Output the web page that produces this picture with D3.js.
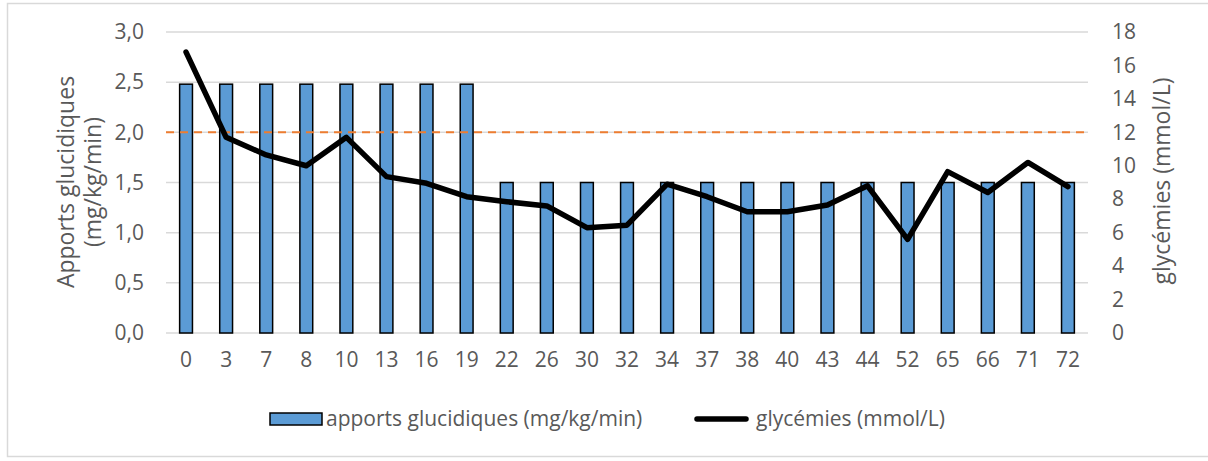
<!DOCTYPE html>
<html>
<head>
<meta charset="utf-8">
<script src="https://cdn.jsdelivr.net/npm/d3@7"></script>
<style>
  body { margin: 0; background: #fff; }
  text { font-family: "Open Sans", sans-serif; fill: #595959; }
</style>
</head>
<body>
<svg id="chart" width="1208" height="461"></svg>
<script>
const jours = ["0","3","7","8","10","13","16","19","22","26","30","32","34","37","38","40","43","44","52","65","66","71","72"];
const apports = [2.48,2.48,2.48,2.48,2.48,2.48,2.48,2.48,1.5,1.5,1.5,1.5,1.5,1.5,1.5,1.5,1.5,1.5,1.5,1.5,1.5,1.5,1.5];
const glycemies = [16.8,11.7,10.65,10.0,11.7,9.35,8.95,8.15,7.85,7.6,6.3,6.45,8.9,8.15,7.25,7.25,7.65,8.8,5.6,9.65,8.4,10.2,8.75];
const seuil = 2.0;
const leftTicks = [0,0.5,1,1.5,2,2.5,3];
const rightTicks = [0,2,4,6,8,10,12,14,16,18];

(() => {
  let margin = {top: 32, left: 166, right: 120, bottom: 128},
      width = 1088 - margin.left,
      height = 333 - margin.top,
      svg = d3.select("svg#chart");

  svg.append("rect")
    .attr("x", 7.5).attr("y", 3.5)
    .attr("width", 1210).attr("height", 453)
    .attr("fill", "#fff").attr("stroke", "#d9d9d9").attr("stroke-width", 1.5);

  let g = svg.append("g").attr("transform", "translate(" + margin.left + "," + margin.top + ")");

  let x = d3.scaleBand().domain(jours).range([0, width]).paddingInner(0.68).paddingOuter(0.34),
      y = d3.scaleLinear().domain([0, 3]).range([height, 0]),
      y2 = d3.scaleLinear().domain([0, 18]).range([height, 0]);

  let fmt = d => d3.format(".1f")(d).replace(".", ",");

  // grid
  g.append("g").selectAll("line")
    .data(leftTicks)
    .enter().append("line")
    .attr("x1", 0).attr("x2", width)
    .attr("y1", d => y(d)).attr("y2", d => y(d))
    .attr("stroke", "#d9d9d9").attr("stroke-width", 1.5);

  let styleTicks = sel => {
    sel.select(".domain").remove();
    sel.selectAll("text").attr("font-size", 21).style("font-family", "'Open Sans', sans-serif").attr("fill", "#595959");
  };

  // left axis
  g.append("g")
    .call(d3.axisLeft(y).tickValues(leftTicks).tickFormat(fmt).tickSize(0).tickPadding(22))
    .call(styleTicks);

  // right axis
  g.append("g").attr("transform", "translate(" + width + ",0)")
    .call(d3.axisRight(y2).tickValues(rightTicks).tickSize(0).tickPadding(24))
    .call(styleTicks);

  // x axis
  g.append("g").attr("transform", "translate(0," + height + ")")
    .call(d3.axisBottom(x).tickSize(0).tickPadding(19))
    .call(styleTicks);

  // bars
  g.selectAll(".bar")
    .data(apports)
    .enter().append("rect")
    .attr("class", "bar")
    .attr("x", (d, i) => x(jours[i]))
    .attr("y", d => y(d))
    .attr("width", x.bandwidth())
    .attr("height", d => height - y(d))
    .attr("fill", "#5b9bd5")
    .attr("stroke", "#000").attr("stroke-width", 1.5);

  // threshold
  g.append("line")
    .attr("x1", 0).attr("x2", width)
    .attr("y1", y(seuil)).attr("y2", y(seuil))
    .attr("stroke", "#ed7d31").attr("stroke-width", 2)
    .attr("stroke-dasharray", "8,6");

  // line
  let line = d3.line()
    .x((d, i) => x(jours[i]) + x.bandwidth() / 2)
    .y(d => y2(d));
  g.append("path")
    .datum(glycemies)
    .attr("d", line)
    .attr("fill", "none")
    .attr("stroke", "#000").attr("stroke-width", 5.5)
    .attr("stroke-linejoin", "round").attr("stroke-linecap", "round");

  // axis titles
  let lt = svg.append("text")
    .attr("transform", "translate(80,182) rotate(-90)")
    .attr("text-anchor", "middle")
    .attr("font-size", 23);
  lt.append("tspan").attr("x", 0).attr("dy", "-0.25em").text("Apports glucidiques");
  lt.append("tspan").attr("x", 0).attr("dy", "1.15em").text("(mg/kg/min)");

  svg.append("text")
    .attr("transform", "translate(1170,181) rotate(-90)")
    .attr("text-anchor", "middle")
    .attr("font-size", 23)
    .text("glycémies (mmol/L)");

  // legend
  let lg = svg.append("g");
  lg.append("rect")
    .attr("x", 270).attr("y", 413).attr("width", 52).attr("height", 12)
    .attr("fill", "#5b9bd5").attr("stroke", "#000").attr("stroke-width", 1.5);
  lg.append("text")
    .attr("x", 326).attr("y", 419).attr("dy", "0.35em")
    .attr("font-size", 21)
    .text("apports glucidiques (mg/kg/min)");
  lg.append("line")
    .attr("x1", 697).attr("x2", 746).attr("y1", 419).attr("y2", 419)
    .attr("stroke", "#000").attr("stroke-width", 5.5).attr("stroke-linecap", "round");
  lg.append("text")
    .attr("x", 756).attr("y", 419).attr("dy", "0.35em")
    .attr("font-size", 21)
    .text("glycémies (mmol/L)");
})();
</script>
</body>
</html>
